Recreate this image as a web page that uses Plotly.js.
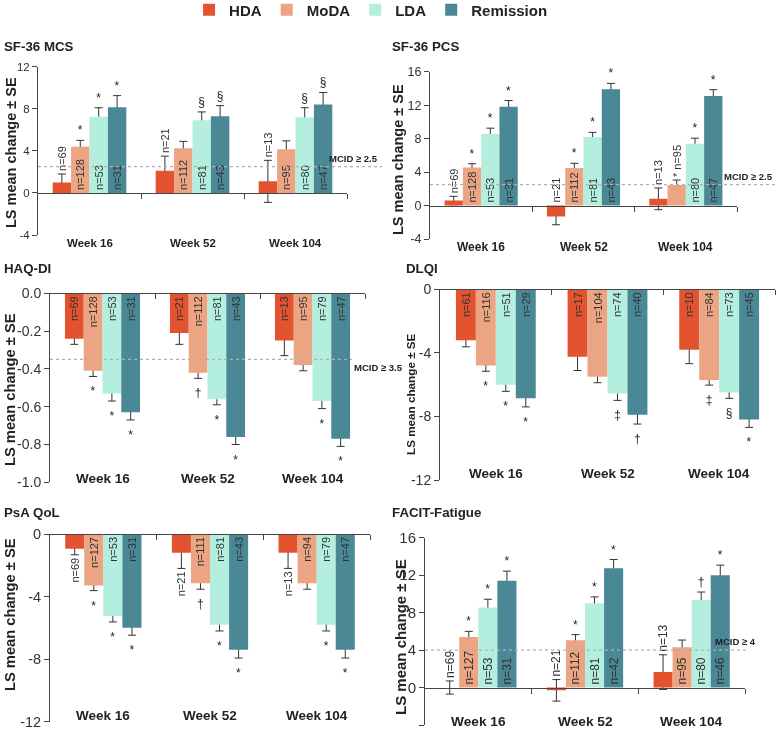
<!DOCTYPE html>
<html><head><meta charset="utf-8">
<script src="https://cdn.plot.ly/plotly-3.0.1.min.js"></script>
<style>html,body{margin:0;padding:0;background:#fff}#chart{width:778px;height:733px;opacity:0.999;will-change:transform}</style>
</head><body><div id="chart"></div>
<script>
// ---------------- DATA ----------------
const weeks = ['Week 16', 'Week 52', 'Week 104'];
const groups = ['HDA', 'MoDA', 'LDA', 'Remission'];

// SF-36 MCS  (rows: HDA, MoDA, LDA, Remission; cols: weeks)
const mcsMean = [[1.0, 2.1, 1.1], [4.4, 4.25, 4.15], [7.25, 6.9, 7.2], [8.15, 7.3, 8.4]];
const mcsSE   = [[0.8, 1.4, 2.0], [0.6, 0.65, 0.8], [0.85, 0.8, 0.9], [1.1, 1.0, 1.15]];
const mcsN    = [[69, 21, 13], [128, 112, 95], [53, 81, 80], [31, 43, 47]];
const mcsSig  = [['', '', ''], ['*', '', ''], ['*', '§', '§'], ['*', '§', '§']];
const mcsTicks = [-4, 0, 4, 8, 12];
const mcsMcid = 2.5;

// SF-36 PCS
const pcsMean = [[0.6, -1.3, 0.8], [4.55, 4.5, 2.45], [8.55, 8.2, 7.4], [11.8, 13.9, 13.1]];
const pcsSE   = [[0.5, 1.0, 1.3], [0.45, 0.55, 0.6], [0.7, 0.55, 0.65], [0.75, 0.7, 0.75]];
const pcsN    = [[69, 21, 13], [128, 112, 95], [53, 81, 80], [31, 43, 47]];
const pcsSig  = [['', '', ''], ['*', '*', '*'], ['*', '*', '*'], ['*', '*', '*']];
const pcsTicks = [-4, 0, 4, 8, 12, 16];
const pcsMcid = 2.5;

// HAQ-DI
const haqMean = [[-0.24, -0.21, -0.25], [-0.41, -0.42, -0.38], [-0.53, -0.56, -0.57], [-0.63, -0.76, -0.77]];
const haqSE   = [[0.03, 0.06, 0.08], [0.03, 0.03, 0.03], [0.04, 0.03, 0.04], [0.04, 0.04, 0.04]];
const haqN    = [[69, 21, 13], [128, 112, 95], [53, 81, 79], [31, 43, 47]];
const haqSig  = [['', '', ''], ['*', '†', ''], ['*', '*', '*'], ['*', '*', '*']];
const haqTicks = [-1.0, -0.8, -0.6, -0.4, -0.2, 0.0];
const haqMcid = -0.35;

// DLQI
const dlqiMean = [[-3.2, -4.25, -3.8], [-4.8, -5.5, -5.7], [-6.0, -6.55, -6.5], [-6.85, -7.9, -8.2]];
const dlqiSE   = [[0.42, 0.86, 0.88], [0.36, 0.38, 0.33], [0.42, 0.44, 0.36], [0.55, 0.58, 0.49]];
const dlqiN    = [[61, 17, 10], [116, 104, 84], [51, 74, 73], [29, 40, 45]];
const dlqiSig  = [['', '', ''], ['*', '', '‡'], ['*', '‡', '§'], ['*', '†', '*']];
const dlqiTicks = [-12, -8, -4, 0];

// PsA QoL
const psaMean = [[-0.95, -1.2, -1.2], [-3.3, -3.15, -3.15], [-5.25, -5.8, -5.8], [-6.0, -7.4, -7.4]];
const psaSE   = [[0.38, 1.0, 1.0], [0.32, 0.38, 0.38], [0.37, 0.4, 0.4], [0.47, 0.53, 0.53]];
const psaN    = [[69, 21, 13], [127, 111, 94], [53, 81, 79], [31, 43, 47]];
const psaSig  = [['', '', ''], ['*', '†', ''], ['*', '*', '*'], ['*', '*', '*']];
const psaTicks = [-12, -8, -4, 0];

// FACIT-Fatigue
const facitMean = [[0.0, -0.3, 1.65], [5.4, 5.05, 4.3], [8.55, 9.0, 9.35], [11.4, 12.75, 12.0]];
const facitSE   = [[0.7, 1.15, 1.85], [0.6, 0.6, 0.77], [0.88, 0.68, 0.85], [1.03, 0.92, 1.07]];
const facitN    = [[69, 21, 13], [127, 112, 95], [53, 81, 80], [31, 42, 46]];
const facitSig  = [['', '', ''], ['*', '*', ''], ['*', '*', '†'], ['*', '*', '*']];
const facitTicks = [-4, 0, 4, 8, 12, 16];
const facitMcid = 4;

// ---------------- STYLE / LAYOUT ----------------
const W = 778, H = 733;
const FONT = 'Arial, "Liberation Sans", sans-serif';
const colors = {HDA: '#e4532f', MoDA: '#eba583', LDA: '#b4eedf', Remission: '#4b8896'};
const NEG_MARK_GAP = 5; // extra px gap for markers under negative bars
const xs = weeks.map((w, i) => i);

const panels = [
  {title: 'SF-36 MCS', mean: mcsMean, se: mcsSE, n: mcsN, sig: mcsSig, ticks: mcsTicks, fmt: 0, dir: 1,
   mcid: mcsMcid, mcidLabel: 'MCID ≥ 2.5', mcidEnd: 382, mcidLabX: 380, mcidLabAnchor: 'right', mcidAbove: true,
   box: {x0: 38, x1: 347, yt: 66.7, yb: 235}, titlePos: [2, 47], yTitlePos: [11, 153], weekY: 243,
   fs: {tick: 11.5, week: 11.5, n: 11, ytitle: 14.5, sig: 12}},
  {title: 'SF-36 PCS', mean: pcsMean, se: pcsSE, n: pcsN, sig: pcsSig, ticks: pcsTicks, fmt: 0, dir: 1,
   mcid: pcsMcid, mcidLabel: 'MCID ≥ 2.5', mcidEnd: 776, mcidLabX: 775, mcidLabAnchor: 'right', mcidAbove: true,
   box: {x0: 430, x1: 737, yt: 71.7, yb: 239}, titlePos: [390, 47], yTitlePos: [398, 159], weekY: 247,
   fs: {tick: 12.5, week: 12, n: 11, ytitle: 14.5, sig: 12}},
  {title: 'HAQ-DI', mean: haqMean, se: haqSE, n: haqN, sig: haqSig, ticks: haqTicks, fmt: 1, dir: -1,
   mcid: haqMcid, mcidLabel: 'MCID ≥ 3.5', mcidEnd: 352, mcidLabX: 352, mcidLabAnchor: 'left', mcidAbove: false,
   box: {x0: 50, x1: 365, yt: 293.3, yb: 482.3}, titlePos: [2, 268], yTitlePos: [10, 390], weekY: 478,
   fs: {tick: 14, week: 13.5, n: 11, ytitle: 14.7, sig: 12}},
  {title: 'DLQI', mean: dlqiMean, se: dlqiSE, n: dlqiN, sig: dlqiSig, ticks: dlqiTicks, fmt: 0, dir: -1,
   mcid: null,
   box: {x0: 440, x1: 775, yt: 289.3, yb: 480}, titlePos: [404, 268], yTitlePos: [410, 394], weekY: 473,
   fs: {tick: 14, week: 13.5, n: 11, ytitle: 11.7, sig: 12}},
  {title: 'PsA QoL', mean: psaMean, se: psaSE, n: psaN, sig: psaSig, ticks: psaTicks, fmt: 0, dir: -1,
   mcid: null,
   box: {x0: 50, x1: 370, yt: 534, yb: 721.7}, titlePos: [2, 512], yTitlePos: [10, 615], weekY: 715,
   fs: {tick: 14.5, week: 13.5, n: 11, ytitle: 14.7, sig: 12}},
  {title: 'FACIT-Fatigue', mean: facitMean, se: facitSE, n: facitN, sig: facitSig, ticks: facitTicks, fmt: 0, dir: 1,
   mcid: facitMcid, mcidLabel: 'MCID ≥ 4', mcidEnd: 747, mcidLabX: 758, mcidLabAnchor: 'right', mcidAbove: true,
   box: {x0: 425, x1: 745, yt: 537.7, yb: 725}, titlePos: [390, 512], yTitlePos: [400, 637], weekY: 721,
   fs: {tick: 15, week: 13.7, n: 12, ytitle: 15, sig: 12}}
];

const under = [], bars = [];
const layout = {
  width: W, height: H, autosize: false, margin: {l: 0, r: 0, t: 0, b: 0, pad: 0, autoexpand: false},
  paper_bgcolor: '#ffffff', plot_bgcolor: 'rgba(0,0,0,0)',
  barmode: 'group', bargap: 0.285, bargroupgap: 0,
  font: {family: FONT, color: '#222'},
  showlegend: true,
  legend: {orientation: 'h', x: 0.243, xanchor: 'left', y: 1 - 10 / H, yanchor: 'middle',
           font: {family: FONT, size: 15, weight: 'bold', color: '#222'},
           bgcolor: 'rgba(0,0,0,0)', traceorder: 'normal', itemclick: false, itemdoubleclick: false},
  annotations: [], shapes: []
};

panels.forEach((p, k) => {
  const s = k === 0 ? '' : String(k + 1);
  const xa = 'x' + s, ya = 'y' + s;
  const b = p.box;
  const yd = [1 - b.yb / H, 1 - b.yt / H];
  const r = [Math.min(...p.ticks), Math.max(...p.ticks)];
  const span = r[1] - r[0];
  const ppu = (b.yb - b.yt) / span;
  const zeroFrac = yd[0] + (0 - r[0]) / span * (yd[1] - yd[0]);

  layout['xaxis' + s] = {
    domain: [b.x0 / W, b.x1 / W], range: [-0.5, weeks.length - 0.5], type: 'linear',
    anchor: 'free', position: zeroFrac,
    showline: true, linecolor: '#444', linewidth: 1,
    ticks: 'outside', ticklen: 5, tickcolor: '#444', tickwidth: 1,
    tickmode: 'array', tickvals: weeks.map((w, i) => i + 0.5), showticklabels: false,
    showgrid: false, zeroline: false, fixedrange: true
  };
  layout['yaxis' + s] = {
    domain: yd, range: r, anchor: xa,
    showline: true, linecolor: '#444', linewidth: 1,
    ticks: 'outside', ticklen: 5, tickcolor: '#444', tickwidth: 1,
    tickmode: 'array', tickvals: p.ticks, ticktext: p.ticks.map(v => v.toFixed(p.fmt)),
    tickfont: {family: FONT, size: p.fs.tick, color: '#333'},
    showgrid: false, zeroline: false, fixedrange: true
  };

  groups.forEach((g, gi) => {
    const m = p.mean[gi], se = p.se[gi], n = p.n[gi], sig = p.sig[gi];
    const labels = n.map(v => 'n=' + v);
    const inside = m.map((v, i) => Math.abs(v) * ppu >= labels[i].length * 0.56 * p.fs.n + 6);
    const combine = m.map((v, i) => !inside[i] && sig[i] !== '' && Math.sign(v) === p.dir);
    const tip = m.map((v, i) => v >= 0 ? v + se[i] : v - se[i] - NEG_MARK_GAP / ppu);
    const labBase = m.map((v, i) => inside[i] ? null :
      (p.dir > 0 ? Math.max(v + se[i], 0) : Math.min(v - se[i], 0)) + p.dir * span * 1e-4);
    const clear = {color: 'rgba(0,0,0,0)', line: {width: 0}};
    // error bars (drawn under the coloured bars)
    under.push({type: 'bar', x: xs, y: m, xaxis: xa, yaxis: ya, offsetgroup: g, marker: clear,
      error_y: {type: 'data', array: se, symmetric: true, visible: true, color: '#333', thickness: 1, width: 4},
      showlegend: false, hoverinfo: 'skip'});
    // significance markers beyond the error bar
    under.push({type: 'bar', x: xs, y: tip, xaxis: xa, yaxis: ya, offsetgroup: g, marker: clear,
      text: sig.map((t, i) => combine[i] ? '' : t), textposition: 'outside', textangle: 0,
      textfont: {family: FONT, size: p.fs.sig, color: '#222'},
      outsidetextfont: {family: FONT, size: p.fs.sig, color: '#222'},
      constraintext: 'none', cliponaxis: false, showlegend: false, hoverinfo: 'skip'});
    // n labels that do not fit inside the bar
    under.push({type: 'bar', x: xs, y: labBase, xaxis: xa, yaxis: ya, offsetgroup: g, marker: clear,
      text: labels.map((t, i) => inside[i] ? '' : (combine[i] ? sig[i] + ' ' + t : t)),
      textposition: 'outside', textangle: -90,
      textfont: {family: FONT, size: p.fs.n, color: '#333'}, constraintext: 'none', cliponaxis: false,
      showlegend: false, hoverinfo: 'skip'});
    // coloured bars
    bars.push({type: 'bar', x: xs, y: m, xaxis: xa, yaxis: ya, offsetgroup: g, name: g, legendgroup: g,
      showlegend: k === 0, marker: {color: colors[g], line: {width: 0}},
      text: labels.map((t, i) => inside[i] ? t : ''), textposition: 'inside', insidetextanchor: 'start',
      textangle: -90, textfont: {family: FONT, size: p.fs.n, color: '#333'}, constraintext: 'none',
      hoverinfo: 'skip'});
  });

  // panel title
  layout.annotations.push({xref: 'paper', yref: 'paper', x: p.titlePos[0] / W, y: 1 - p.titlePos[1] / H,
    xanchor: 'left', yanchor: 'middle', showarrow: false, text: '<b>' + p.title + '</b>',
    font: {family: FONT, size: 13.3, color: '#222'}});
  // y-axis title
  layout.annotations.push({xref: 'paper', yref: 'paper', x: p.yTitlePos[0] / W, y: 1 - p.yTitlePos[1] / H,
    xanchor: 'center', yanchor: 'middle', showarrow: false, textangle: -90,
    text: '<b>LS mean change ± SE</b>', font: {family: FONT, size: p.fs.ytitle, color: '#222'}});
  // week labels
  weeks.forEach((w, i) => {
    layout.annotations.push({xref: xa, yref: 'paper', x: i, y: 1 - p.weekY / H, xanchor: 'center', yanchor: 'middle',
      showarrow: false, text: '<b>' + w + '</b>', font: {family: FONT, size: p.fs.week, color: '#222'}});
  });
  // MCID reference line
  if (p.mcid !== null) {
    const wpx = b.x1 - b.x0;
    layout.shapes.push({type: 'line', xref: xa + ' domain', yref: ya, x0: 0, x1: (p.mcidEnd - b.x0) / wpx,
      y0: p.mcid, y1: p.mcid, line: {color: '#b0b0b0', width: 1.3, dash: 'dot'}, layer: 'above'});
    layout.annotations.push({xref: xa + ' domain', yref: ya, x: (p.mcidLabX - b.x0) / wpx, y: p.mcid,
      xanchor: p.mcidLabAnchor, yanchor: p.mcidAbove ? 'bottom' : 'top', yshift: p.mcidAbove ? 1 : -1,
      showarrow: false, text: '<b>' + p.mcidLabel + '</b>', font: {family: FONT, size: 9.5, color: '#222'}});
  }
});

Plotly.newPlot('chart', under.concat(bars), layout, {displayModeBar: false, staticPlot: true});
</script>
</body></html>
